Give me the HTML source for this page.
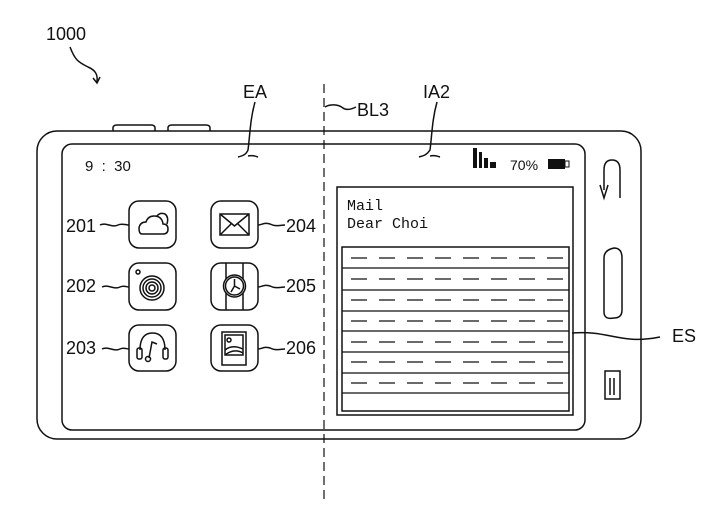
<!DOCTYPE html>
<html><head><style>html,body{margin:0;padding:0;background:#fff}svg{display:block}</style></head><body>
<svg width="713" height="516" viewBox="0 0 713 516" xmlns="http://www.w3.org/2000/svg" font-family="Liberation Sans, sans-serif" fill="none" stroke="#111" stroke-width="1.5">
<g fill="#111" stroke="none" font-size="18">
<text x="46" y="40">1000</text>
<text x="243" y="98">EA</text>
<text x="357" y="116">BL3</text>
<text x="423" y="98">IA2</text>
<text x="672" y="342">ES</text>
<text x="85" y="171" font-size="15" xml:space="preserve">9  :  30</text>
<text x="66" y="232">201</text><text x="66" y="292">202</text><text x="66" y="354">203</text>
<text x="286" y="232">204</text><text x="286" y="292">205</text><text x="286" y="354">206</text>
<text x="510" y="170" font-size="14">70%</text>
<text x="347" y="210" font-family="Liberation Mono, monospace" font-size="15">Mail</text>
<text x="347" y="228" font-family="Liberation Mono, monospace" font-size="15">Dear Choi</text>
</g>
<path d="M70 47 C75 60 78 62 88 67 C95 70 98 74 97 82 M93 78 L97 83 L100 77"/>
<path d="M255 102 C250 120 250 135 248 150 C246 155 242 156 238 157 M248 156 C252 155 255 156 258 157"/>
<path d="M437 102 C432 120 432 135 430 150 C426 156 422 156 419 157 M430 156 C434 155 437 156 440 157"/>
<path d="M325 107 C330 104 338 104 343 108 C347 111 352 109 356 107"/>
<path d="M572 333 C610 330 620 345 660 337"/>
<line x1="324" y1="84" x2="324" y2="500" stroke-dasharray="9,5" stroke-width="1.2"/>
<path d="M113 131 V128 Q113 125 117 125 H151 Q155 125 155 128 V131 M168 131 V128 Q168 125 172 125 H206 Q210 125 210 128 V131"/>
<rect x="37" y="131" width="604" height="308" rx="20"/>
<rect x="62" y="144" width="523" height="286" rx="10"/>
<g>
<rect x="129" y="201" width="47" height="47" rx="10"/>
<rect x="211" y="201" width="47" height="47" rx="10"/>
<rect x="129" y="263" width="47" height="47" rx="10"/>
<rect x="211" y="263" width="47" height="47" rx="10"/>
<rect x="129" y="325" width="47" height="46" rx="10"/>
<rect x="211" y="325" width="47" height="46" rx="10"/>
<path d="M100 225 C106 222 112 228 118 225 C122 223 125 225 129 225 M102 287 C108 284 114 290 120 287 C124 285 126 287 129 287 M102 349 C108 346 114 352 120 349 C124 347 126 349 129 349"/>
<path d="M258 225 C262 225 264 222 270 224 C276 227 280 225 285 225 M258 287 C262 287 264 284 270 286 C276 289 280 287 285 287 M258 349 C262 349 264 346 270 348 C276 351 280 349 285 349"/>
<path d="M142 234 H163 Q168 234 168 229 Q168 224 163 224 Q162 216 154 216 Q148 216 146 222 Q140 222 139 228 Q139 234 142 234 Z M157 216 Q160 212 165 214 Q169 217 167 224"/>
<rect x="220" y="214" width="29" height="21"/><path d="M220 214 L234.5 226 L249 214 M220 235 L231 224 M249 235 L238 224"/>
<circle cx="152" cy="288" r="12"/><circle cx="152" cy="288" r="9"/><circle cx="152" cy="288" r="6"/><circle cx="152" cy="288" r="3"/><circle cx="138" cy="272" r="2"/>
<path d="M226 263 V310 M243 263 V310"/><circle cx="234.5" cy="286" r="11" fill="#fff"/><circle cx="234.5" cy="286" r="9"/><path d="M234.5 286 V279 M234.5 286 L240 289 M234.5 286 L231 292"/>
<path d="M140 350 Q140 333 152.5 333 Q165 333 165 350"/><rect x="137" y="348" width="5" height="11" rx="2"/><rect x="163" y="348" width="5" height="11" rx="2"/><path d="M149 358 L152 342 L157 344"/><circle cx="148" cy="359" r="2.5"/>
<rect x="222" y="332" width="24" height="33"/><rect x="225" y="335" width="18" height="20"/><circle cx="229" cy="340" r="2"/><path d="M225 350 Q232 344 243 349 M225 355 Q234 348 243 353"/>
</g>
<g fill="#111" stroke="none">
<rect x="473" y="148" width="4" height="20"/><rect x="479" y="152" width="3" height="16"/><rect x="484" y="158" width="4" height="10"/><rect x="490" y="162" width="6" height="6"/>
<rect x="548" y="159" width="17" height="10"/><rect x="565" y="161" width="4" height="6" fill="none" stroke="#111" stroke-width="1"/>
</g>
<rect x="337" y="187" width="236" height="228"/>
<rect x="342" y="247" width="227" height="164"/>
<path d="M342 268 H569 M342 290 H569 M342 311 H569 M342 331 H569 M342 352 H569 M342 373 H569 M342 393 H569" stroke-width="1.2"/>
<g stroke-dasharray="16,12" stroke-width="1.2">
<path d="M351 258 H565 M351 279 H565 M351 300 H565 M351 321 H565 M351 342 H565 M351 362 H565 M351 383 H565"/>
</g>
<path d="M620 198 V170 Q620 160 612 160 Q604 160 604 170 V190 M600 185 L604 198 L608 185"/>
<path d="M604 258 Q604 250 614 248 Q622 248 622 258 V310 Q622 318 614 318 Q604 320 604 312 Z"/>
<rect x="605" y="371" width="15" height="28"/><path d="M610 378 V395 M614 378 V395"/>
</svg>
</body></html>
